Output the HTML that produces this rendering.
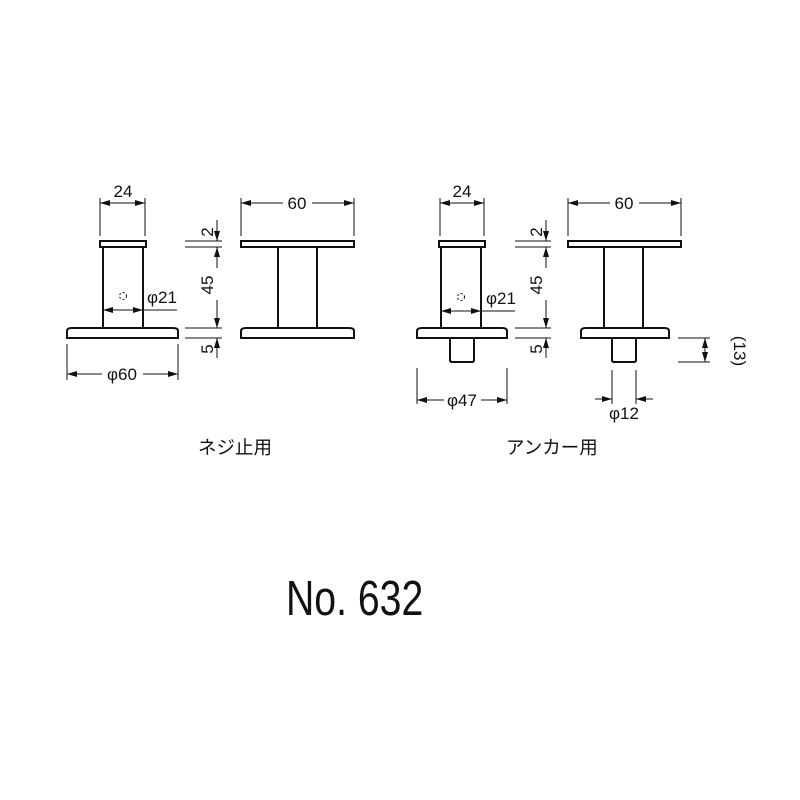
<!DOCTYPE html>
<html><head><meta charset="utf-8"><style>
html,body{margin:0;padding:0;background:#fff;}
svg{display:block;}
text{font-family:"Liberation Sans","Noto Sans CJK JP",sans-serif;fill:#111;}
</style></head><body>
<svg width="800" height="800" viewBox="0 0 800 800" xmlns="http://www.w3.org/2000/svg">
<defs>
<marker id="a" viewBox="0 0 10 6" refX="10" refY="3" markerWidth="10" markerHeight="6" orient="auto-start-reverse" markerUnits="userSpaceOnUse"><path d="M0,0 L10,3 L0,6 z" fill="#111"/></marker>
</defs>
<g stroke="#111" fill="none" stroke-width="1">
<line x1="100" y1="198" x2="100" y2="236"/><line x1="145" y1="198" x2="145" y2="236"/>
<line x1="100" y1="203" x2="145" y2="203" marker-start="url(#a)" marker-end="url(#a)"/>
<rect x="100" y="241" width="46" height="6" stroke-width="2"/>
<line x1="103" y1="247" x2="103" y2="328" stroke-width="2"/><line x1="143" y1="247" x2="143" y2="328" stroke-width="2"/>
<path d="M67,338 L67,331 Q67,328 72,328 L173,328 Q178,328 178,331 L178,338 Z" stroke-width="2"/>
<line x1="103" y1="310" x2="143" y2="310" marker-start="url(#a)" marker-end="url(#a)"/><line x1="143" y1="310" x2="177" y2="310"/>
<circle cx="123" cy="296" r="3.5" stroke-dasharray="2 2"/>
<line x1="67" y1="344" x2="67" y2="380"/><line x1="178" y1="344" x2="178" y2="380"/>
<line x1="67" y1="374" x2="102" y2="374" marker-start="url(#a)"/><line x1="143" y1="374" x2="178" y2="374" marker-end="url(#a)"/>
<line x1="185" y1="241" x2="222" y2="241"/><line x1="185" y1="247" x2="222" y2="247"/>
<line x1="185" y1="328" x2="222" y2="328"/><line x1="185" y1="338" x2="222" y2="338"/>
<line x1="217" y1="220" x2="217" y2="241" marker-end="url(#a)"/>
<line x1="217" y1="247" x2="217" y2="268" marker-start="url(#a)"/>
<line x1="217" y1="300" x2="217" y2="328" marker-end="url(#a)"/>
<line x1="217" y1="338" x2="217" y2="358" marker-start="url(#a)"/>
<line x1="241" y1="198" x2="241" y2="236"/><line x1="354" y1="198" x2="354" y2="236"/>
<line x1="241" y1="203" x2="283" y2="203" marker-start="url(#a)"/><line x1="312" y1="203" x2="354" y2="203" marker-end="url(#a)"/>
<rect x="241" y="241" width="113" height="6" stroke-width="2"/>
<line x1="278" y1="247" x2="278" y2="328" stroke-width="2"/><line x1="317" y1="247" x2="317" y2="328" stroke-width="2"/>
<path d="M241,338 L241,331 Q241,328 246,328 L349,328 Q354,328 354,331 L354,338 Z" stroke-width="2"/>
<line x1="440" y1="198" x2="440" y2="236"/><line x1="484" y1="198" x2="484" y2="236"/>
<line x1="440" y1="203" x2="484" y2="203" marker-start="url(#a)" marker-end="url(#a)"/>
<rect x="439" y="241" width="46" height="6" stroke-width="2"/>
<line x1="441" y1="247" x2="441" y2="328" stroke-width="2"/><line x1="481" y1="247" x2="481" y2="328" stroke-width="2"/>
<path d="M417,338 L417,331 Q417,328 422,328 L502,328 Q507,328 507,331 L507,338 Z" stroke-width="2"/>
<path d="M450,338 L450,360 Q450,362 452,362 L472,362 Q474,362 474,360 L474,338" stroke-width="2"/>
<line x1="441" y1="311" x2="481" y2="311" marker-start="url(#a)" marker-end="url(#a)"/><line x1="481" y1="311" x2="515" y2="311"/>
<circle cx="461" cy="297" r="3.5" stroke-dasharray="2 2"/>
<line x1="417" y1="368" x2="417" y2="404"/><line x1="507" y1="368" x2="507" y2="404"/>
<line x1="417" y1="400" x2="444" y2="400" marker-start="url(#a)"/><line x1="481" y1="400" x2="507" y2="400" marker-end="url(#a)"/>
<line x1="515" y1="241" x2="551" y2="241"/><line x1="515" y1="247" x2="551" y2="247"/>
<line x1="515" y1="328" x2="551" y2="328"/><line x1="515" y1="338" x2="551" y2="338"/>
<line x1="546" y1="220" x2="546" y2="241" marker-end="url(#a)"/>
<line x1="546" y1="247" x2="546" y2="268" marker-start="url(#a)"/>
<line x1="546" y1="300" x2="546" y2="328" marker-end="url(#a)"/>
<line x1="546" y1="338" x2="546" y2="358" marker-start="url(#a)"/>
<line x1="568" y1="198" x2="568" y2="236"/><line x1="681" y1="198" x2="681" y2="236"/>
<line x1="568" y1="203" x2="610" y2="203" marker-start="url(#a)"/><line x1="639" y1="203" x2="681" y2="203" marker-end="url(#a)"/>
<rect x="568" y="241" width="113" height="6" stroke-width="2"/>
<line x1="604" y1="247" x2="604" y2="328" stroke-width="2"/><line x1="643" y1="247" x2="643" y2="328" stroke-width="2"/>
<path d="M581,338 L581,331 Q581,328 586,328 L664,328 Q669,328 669,331 L669,338 Z" stroke-width="2"/>
<path d="M612,338 L612,360 Q612,362 614,362 L634,362 Q636,362 636,360 L636,338" stroke-width="2"/>
<line x1="678" y1="338" x2="710" y2="338"/><line x1="678" y1="362" x2="710" y2="362"/>
<line x1="705" y1="338" x2="705" y2="362" marker-start="url(#a)" marker-end="url(#a)"/>
<line x1="612" y1="370" x2="612" y2="404"/><line x1="636" y1="370" x2="636" y2="404"/>
<line x1="595" y1="399" x2="612" y2="399" marker-end="url(#a)"/><line x1="653" y1="399" x2="636" y2="399" marker-end="url(#a)"/>
</g>
<g font-size="17">
<text x="123" y="197" text-anchor="middle">24</text>
<text x="297" y="209" text-anchor="middle">60</text>
<text x="147" y="303">φ21</text>
<text x="122" y="380" text-anchor="middle">φ60</text>
<text x="462" y="197" text-anchor="middle">24</text>
<text x="624" y="209" text-anchor="middle">60</text>
<text x="486" y="304">φ21</text>
<text x="462" y="406" text-anchor="middle">φ47</text>
<text x="624" y="419" text-anchor="middle">φ12</text>
<text transform="translate(213,232) rotate(-90)" text-anchor="middle">2</text>
<text transform="translate(213,285) rotate(-90)" text-anchor="middle">45</text>
<text transform="translate(213,349) rotate(-90)" text-anchor="middle">5</text>
<text transform="translate(542,232) rotate(-90)" text-anchor="middle">2</text>
<text transform="translate(542,285) rotate(-90)" text-anchor="middle">45</text>
<text transform="translate(542,349) rotate(-90)" text-anchor="middle">5</text>
<text transform="translate(734,351) rotate(90)" text-anchor="middle">(13)</text>
</g>
<text x="198" y="454" font-size="18.5">ネジ止用</text>
<text x="506" y="454" font-size="18.5">アンカー用</text>
<text x="286" y="615" font-size="49" transform="translate(286,0) scale(0.8,1) translate(-286,0)">No. 632</text>
</svg>
</body></html>
